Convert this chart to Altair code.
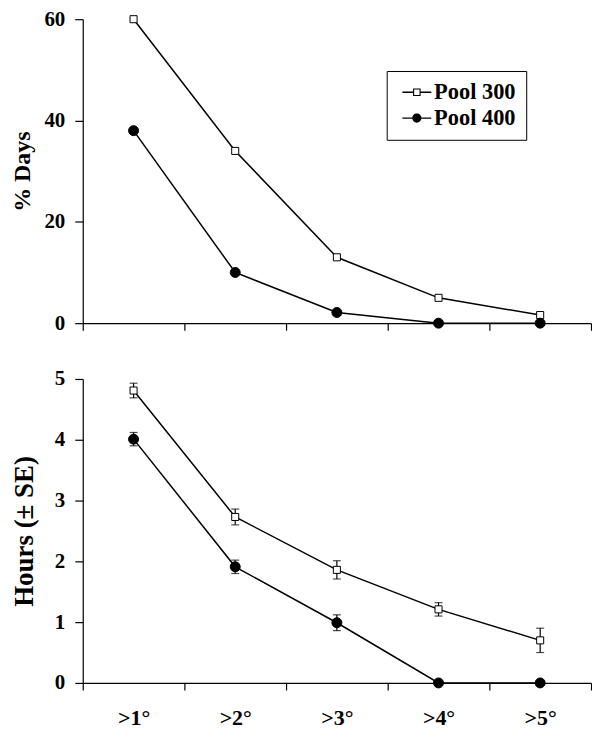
import altair as alt
import pandas as pd

categories = [">1°", ">2°", ">3°", ">4°", ">5°"]
series = ["Pool 300", "Pool 400"]
days_300 = [60, 34, 13, 5, 1.6]
days_400 = [38, 10, 2.1, 0, 0]
hours_300 = [4.81, 2.73, 1.86, 1.21, 0.70]
hours_400 = [4.01, 1.91, 0.99, 0, 0]
se_300 = [0.12, 0.13, 0.15, 0.11, 0.20]
se_400 = [0.11, 0.11, 0.13, 0, 0]

rows = []
for i, c in enumerate(categories):
    rows.append(dict(cat=c, series=series[0], days=days_300[i], hours=hours_300[i], se=se_300[i]))
    rows.append(dict(cat=c, series=series[1], days=days_400[i], hours=hours_400[i], se=se_400[i]))
df = pd.DataFrame(rows)
df["lo"] = df["hours"] - df["se"]
df["hi"] = df["hours"] + df["se"]
err = df[df["se"] > 0]

FONT = "Liberation Serif, Times New Roman, serif"
W = 510
H = 305

xscale = alt.Scale(type="band", domain=categories, paddingInner=0, paddingOuter=0)

# legend symbols (filled shapes only): line stub + open square ring / line stub + filled circle
STUBS_SQ = "M-1.45,-0.07H-0.38V0.07H-1.45ZM0.38,-0.07H1.45V0.07H0.38Z"
STUBS_CI = "M-1.45,-0.07H-0.45V0.07H-1.45ZM0.45,-0.07H1.45V0.07H0.45Z"
PATH_SQ = STUBS_SQ + "M-0.38,-0.38H0.38V0.38H-0.38ZM-0.27,-0.27V0.27H0.27V-0.27Z"
PATH_CI = STUBS_CI + "M-0.46,0A0.46,0.46 0 1,0 0.46,0A0.46,0.46 0 1,0 -0.46,0Z"

legend = alt.Legend(
    title=None, orient="none", legendX=305, legendY=52,
    strokeColor="black", padding=10, fillColor="white",
    labelFont=FONT, labelFontWeight="bold", labelFontSize=22.5, labelColor="black",
    symbolSize=400, symbolOffset=9, labelOffset=6, rowPadding=3,
    symbolFillColor="black", symbolStrokeWidth=0, symbolOpacity=1,
)

def yaxis(title, size, values, fmt, tx):
    return alt.Axis(
        title=title, titleFont=FONT, titleFontWeight="bold", titleFontSize=size,
        titleColor="black", titleX=tx, titleY=H / 2, titleAngle=-90,
        titleBaseline="middle", titleAlign="center",
        values=values, format=fmt, tickSize=8, labelPadding=10,
        labelFont=FONT, labelFontWeight="bold", labelFontSize=21, labelColor="black",
        domainColor="black", tickColor="black", domainWidth=1.2, tickWidth=1.2, grid=False,
    )

def xaxis(labels):
    return alt.Axis(
        title=None, labels=labels, tickBand="extent", tickSize=7, labelPadding=18,
        labelFont=FONT, labelFontWeight="bold", labelFontSize=22, labelColor="black",
        labelAngle=0, domainColor="black", tickColor="black", domainWidth=1.2,
        tickWidth=1.2, grid=False,
    )

def panel(field, ydomain, ytitle, tsize, tx, yvals, labels, with_legend, errbars):
    base = alt.Chart(df)
    x = alt.X("cat:N", scale=xscale, sort=categories, axis=xaxis(labels))
    y = alt.Y(f"{field}:Q", scale=alt.Scale(domain=ydomain, nice=False),
              axis=yaxis(ytitle, tsize, yvals, "d", tx))
    line = base.mark_line(color="black", strokeWidth=1.5).encode(
        x=x, y=y, detail="series:N")
    layers = [line]
    if errbars:
        e = alt.Chart(err)
        layers.append(e.mark_rule(color="black", strokeWidth=1.2).encode(
            x=alt.X("cat:N", scale=xscale, sort=categories),
            y="lo:Q", y2="hi:Q"))
        for f in ["lo", "hi"]:
            layers.append(e.mark_tick(color="black", thickness=1.2, size=8, orient="horizontal").encode(
                x=alt.X("cat:N", scale=xscale, sort=categories),
                y=f"{f}:Q"))
    pts = base.mark_point(filled=True, stroke="black", strokeWidth=1, opacity=1).encode(
        x=x, y=y,
        shape=alt.Shape("series:N", scale=alt.Scale(domain=series, range=["square", "circle"]), legend=None),
        fill=alt.Fill("series:N", scale=alt.Scale(domain=series, range=["white", "black"]), legend=None),
        size=alt.Size("series:N", scale=alt.Scale(domain=series, range=[50, 100]), legend=None),
    )
    layers.append(pts)
    ch = alt.layer(*layers)
    if with_legend:
        leg = alt.Chart(df).transform_filter("false").mark_point(
            filled=True, color="black", opacity=1, size=400
        ).encode(
            x=x, y=y,
            shape=alt.Shape("series:N", title=None,
                            scale=alt.Scale(domain=series, range=[PATH_SQ, PATH_CI]), legend=legend),
        )
        ch = alt.layer(ch, leg).resolve_scale(shape="independent")
    return ch.properties(width=W, height=H)

top = panel("days", [0, 60], "% Days", 24, -60, [0, 20, 40, 60], False, True, False)
bottom = panel("hours", [0, 5], "Hours (± SE)", 27, -58, [0, 1, 2, 3, 4, 5], True, False, True)

chart = alt.vconcat(top, bottom, spacing=35).properties(
    padding={"left": 3, "top": -1, "right": 0, "bottom": 0}
).configure(font=FONT).configure_view(stroke=None)

chart.save("out.html", embed_options={"renderer": "svg", "actions": False})
